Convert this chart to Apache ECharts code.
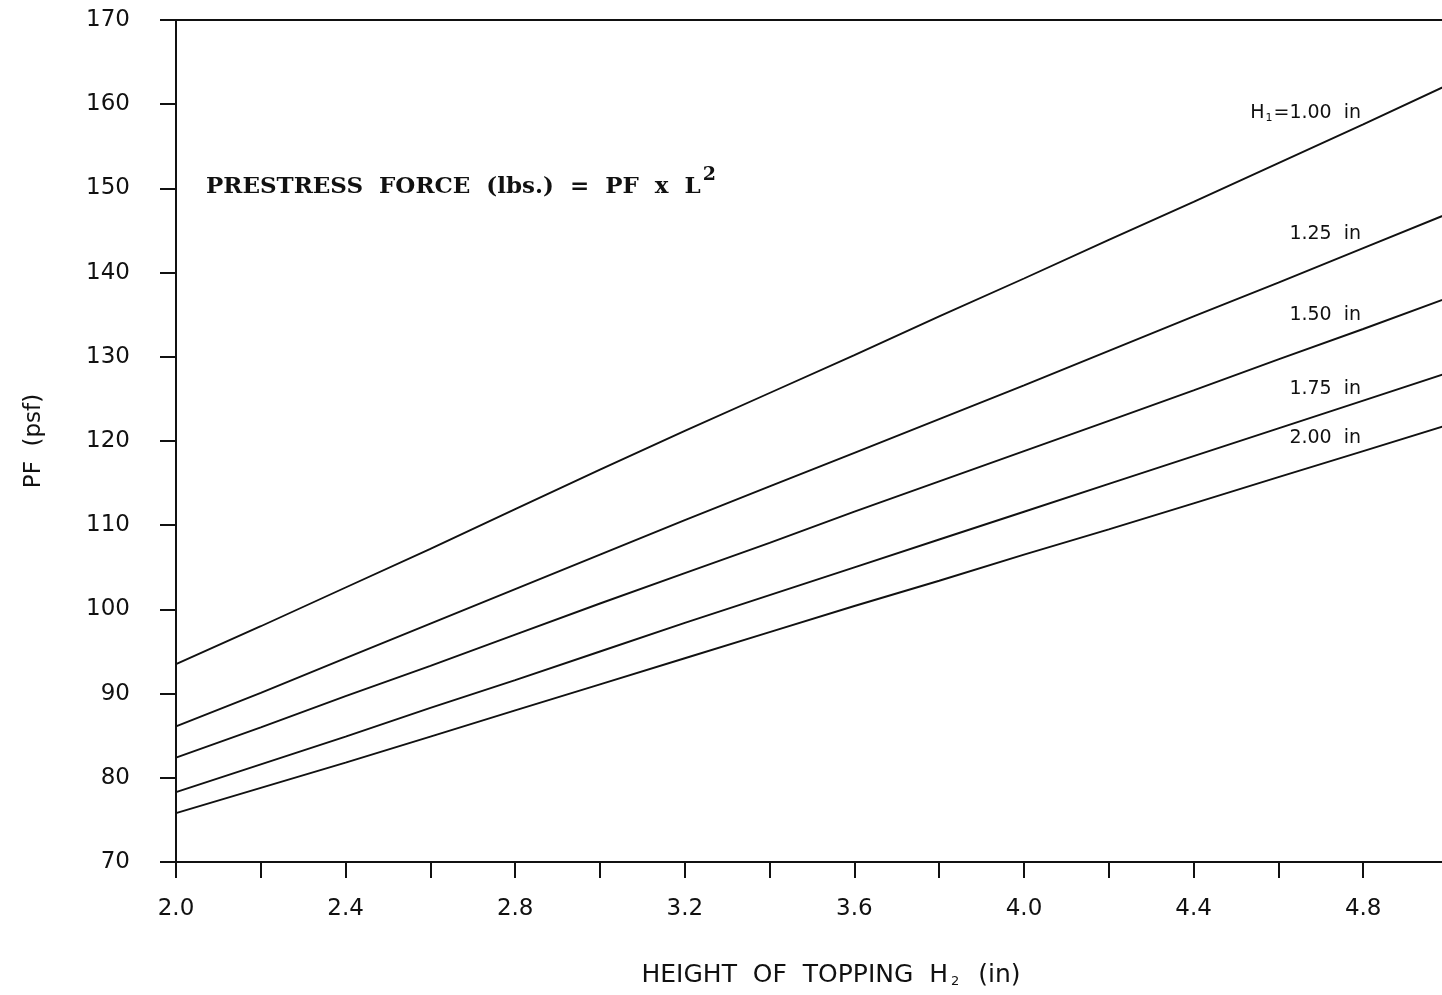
<!DOCTYPE html>
<html>
<head>
<meta charset="utf-8">
<title>Prestress Force vs Height of Topping</title>
<script src="https://cdn.jsdelivr.net/npm/echarts@6/dist/echarts.min.js"></script>
<style>
  html, body { margin: 0; padding: 0; background: #fff; }
  #chart { width: 1442px; height: 995px; }
</style>
</head>
<body>
<div id="chart"></div>
<script>
// Height of topping H2 (in)
const heights = [2.0, 2.2, 2.4, 2.6, 2.8, 3.0, 3.2, 3.4, 3.6, 3.8, 4.0, 4.2, 4.4, 4.6, 4.8, 5.0];

// PF (psf) for each plank height H1
const pfH100 = [93.5, 98.0, 102.6, 107.2, 111.9, 116.6, 121.2, 125.7, 130.2, 134.8, 139.3, 143.9, 148.4, 153.0, 157.6, 162.3];
const pfH125 = [86.1, 90.1, 94.2, 98.3, 102.4, 106.5, 110.6, 114.6, 118.6, 122.6, 126.6, 130.7, 134.8, 138.8, 142.9, 147.0];
const pfH150 = [82.4, 86.0, 89.7, 93.3, 97.0, 100.7, 104.3, 107.9, 111.6, 115.2, 118.8, 122.4, 126.0, 129.7, 133.3, 137.0];
const pfH175 = [78.3, 81.6, 84.9, 88.3, 91.6, 95.0, 98.4, 101.7, 105.0, 108.3, 111.6, 114.9, 118.2, 121.5, 124.8, 128.1];
const pfH200 = [75.8, 78.8, 81.8, 84.9, 88.0, 91.1, 94.2, 97.3, 100.4, 103.4, 106.5, 109.5, 112.6, 115.7, 118.8, 121.9];

// Curve labels
const curveLabels = ['{a|H}{s|1}{a|=1.00  in}', '1.25  in', '1.50  in', '1.75  in', '2.00  in'];

const seriesValues = [pfH100, pfH125, pfH150, pfH175, pfH200];

// where each curve label sits (right edge, data units)
const labelAnchors = [[4.795, 158.9], [4.795, 144.6], [4.795, 134.9], [4.795, 126.2], [4.795, 120.4]];

const INK = '#111';
const FONT = '"DejaVu Sans", "Liberation Sans", sans-serif';
const SERIF = '"DejaVu Serif", "Liberation Serif", serif';

const chart = echarts.init(document.getElementById('chart'), null, { renderer: 'canvas' });

const series = seriesValues.map((vals, i) => ({
  type: 'line',
  name: curveLabels[i],
  data: heights.map((h, k) => [h, vals[k]]),
  showSymbol: false,
  symbol: 'none',
  smooth: false,
  silent: true,
  lineStyle: { color: INK, width: 1.9 },
  markPoint: {
    symbol: 'circle',
    symbolSize: 0,
    silent: true,
    data: [{ coord: labelAnchors[i] }],
    label: {
      show: true,
      position: 'left',
      distance: 0,
      formatter: curveLabels[i],
      color: INK,
      fontFamily: FONT,
      fontSize: 19,
      rich: {
        a: { fontFamily: FONT, fontSize: 19, color: INK },
        s: { fontFamily: FONT, fontSize: 11, color: INK, verticalAlign: 'bottom', padding: [9, 1, 0, 1] }
      }
    }
  }
}));

const option = {
  backgroundColor: '#fff',
  animation: false,
  grid: {
    left: 176,
    top: 20,
    width: 1272,
    height: 842,
    outerBoundsMode: 'none',
    containLabel: false
  },
  xAxis: [
    {
      type: 'value',
      position: 'bottom',
      min: 2.0,
      max: 5.0,
      interval: 0.2,
      name: '{a|HEIGHT  OF  TOPPING  H}{s|2}{a|  (in)}',
      nameLocation: 'middle',
      nameGap: 101,
      nameTextStyle: {
        padding: [0, 0, 0, 38],
        rich: {
          a: { fontFamily: FONT, fontSize: 25, color: INK },
          s: { fontFamily: FONT, fontSize: 13, color: INK, verticalAlign: 'bottom', padding: [11, 3, 0, 3] }
        }
      },
      axisLine: { show: true, onZero: false, lineStyle: { color: INK, width: 2 } },
      axisTick: { show: true, inside: false, length: 16, lineStyle: { color: INK, width: 2 } },
      axisLabel: {
        show: true,
        margin: 36,
        color: INK,
        fontFamily: FONT,
        fontSize: 23,
        showMaxLabel: false,
        formatter: v => (Math.round(v * 10) % 4 === 0 && v < 4.95) ? v.toFixed(1) : ''
      },
      splitLine: { show: false }
    },
    {
      type: 'value',
      position: 'top',
      min: 2.0,
      max: 5.0,
      axisLine: { show: true, onZero: false, lineStyle: { color: INK, width: 2 } },
      axisTick: { show: false },
      axisLabel: { show: false },
      splitLine: { show: false }
    }
  ],
  yAxis: {
    type: 'value',
    min: 70,
    max: 170,
    interval: 10,
    name: 'PF  (psf)',
    nameLocation: 'middle',
    nameGap: 130,
    nameRotate: 90,
    nameTextStyle: { fontFamily: FONT, fontSize: 23, color: INK },
    axisLine: { show: true, onZero: false, lineStyle: { color: INK, width: 2 } },
    axisTick: { show: true, inside: false, length: 16, lineStyle: { color: INK, width: 2 } },
    axisLabel: { margin: 46, color: INK, fontFamily: FONT, fontSize: 23 },
    splitLine: { show: false }
  },
  graphic: [
    {
      type: 'text',
      left: 206,
      top: 166,
      silent: true,
      style: {
        text: '{t|PRESTRESS  FORCE  (lbs.)  =  PF  x  L}{p|2}',
        rich: {
          t: { fontFamily: SERIF, fontWeight: 'bold', fontSize: 23, fill: INK, padding: [10, 0, 0, 0] },
          p: { fontFamily: SERIF, fontWeight: 'bold', fontSize: 19, fill: INK, verticalAlign: 'top', padding: [0, 0, 12, 2] }
        }
      }
    }
  ],
  series: series
};

chart.setOption(option);
</script>
</body>
</html>
